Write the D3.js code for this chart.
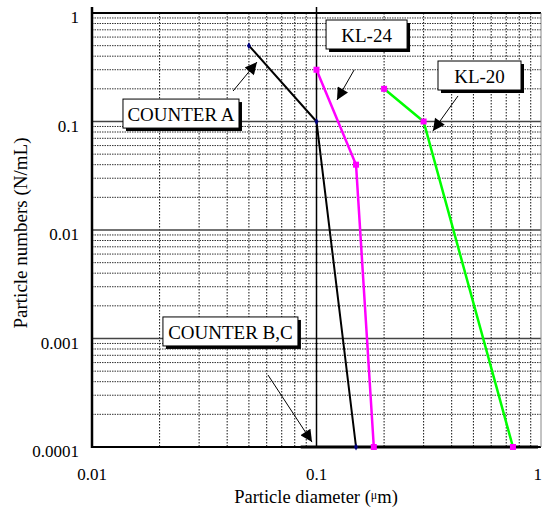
<!DOCTYPE html>
<html>
<head>
<meta charset="utf-8">
<script src="https://cdn.jsdelivr.net/npm/d3@7"></script>
<style>
  body { margin: 0; background: #fff; }
</style>
</head>
<body>
<svg id="chart"></svg>
<script>
// series values (x = particle diameter in um, y = particle numbers N/mL)
var counterA_x = [0.05, 0.1, 0.15];
var counterA_y = [0.5, 0.1, 0.0001];
var kl24_x = [0.1, 0.15, 0.18];
var kl24_y = [0.3, 0.04, 0.0001];
var kl20_x = [0.2, 0.3, 0.75];
var kl20_y = [0.2, 0.1, 0.0001];
var counterBC_x = [0.085, 0.97];
var counterBC_y = [0.0001, 0.0001];

var xTicks = [0.01, 0.1, 1];
var xTickLabels = ["0.01", "0.1", "1"];
var yTicks = [0.0001, 0.001, 0.01, 0.1, 1];
var yTickLabels = ["0.0001", "0.001", "0.01", "0.1", "1"];

// callout labels and arrows, in data units
var labelNames = ["COUNTER A", "KL-24", "KL-20", "COUNTER B,C"];
var labelAt = [[0.01374, 0.161], [0.1103, 0.862], [0.3477, 0.361], [0.0207, 0.00158]];
var arrowFrom = [[0.0425, 0.191], [0.147, 0.298], [0.427, 0.172], [0.0608, 0.000461]];
var arrowTo = [[0.0543, 0.353], [0.1234, 0.158], [0.330, 0.0818], [0.0955, 0.000111]];

var margin = { top: 13, right: 1, bottom: 63, left: 92 };
var width = 542 - margin.left - margin.right,
    height = 510 - margin.top - margin.bottom;

var svg = d3.select("#chart")
    .attr("width", 542)
    .attr("height", 510)
    .attr("font-family", "'Liberation Serif', 'Times New Roman', Times, serif");

var g = svg.append("g")
    .attr("transform", "translate(" + margin.left + "," + margin.top + ")");

var x = d3.scaleLog().domain([0.01, 1]).range([0, width]);
var y = d3.scaleLog().domain([0.0001, 1]).range([height, 0]);

// minor grid
var xMinor = x.ticks().filter(d => xTicks.indexOf(d) < 0);
var yMinor = y.ticks().filter(d => yTicks.indexOf(d) < 0);

g.selectAll(".xminor").data(xMinor).enter().append("line")
    .attr("x1", d => x(d)).attr("x2", d => x(d))
    .attr("y1", 0).attr("y2", height)
    .attr("stroke", "#111").attr("stroke-width", 1)
    .attr("stroke-dasharray", "1.5,1.5");

g.selectAll(".yminor").data(yMinor).enter().append("line")
    .attr("x1", 0).attr("x2", width)
    .attr("y1", d => y(d)).attr("y2", d => y(d))
    .attr("stroke", "#333").attr("stroke-width", 1)
    .attr("stroke-dasharray", "1.5,1");

// major grid
g.selectAll(".ymajor").data(yTicks.slice(1, 4)).enter().append("line")
    .attr("x1", 0).attr("x2", width)
    .attr("y1", d => y(d)).attr("y2", d => y(d))
    .attr("stroke", "#444").attr("stroke-width", 1.5);

g.append("line")
    .attr("x1", x(0.1)).attr("x2", x(0.1))
    .attr("y1", -6).attr("y2", height)
    .attr("stroke", "#000").attr("stroke-width", 1.5);

// frame
g.append("line").attr("x1", 0).attr("x2", 0).attr("y1", -6).attr("y2", height + 1)
    .attr("stroke", "#000").attr("stroke-width", 2.5);
g.append("line").attr("x1", 0).attr("x2", width).attr("y1", 0).attr("y2", 0)
    .attr("stroke", "#000").attr("stroke-width", 2);
g.append("line").attr("x1", 0).attr("x2", width).attr("y1", height).attr("y2", height)
    .attr("stroke", "#000").attr("stroke-width", 2);
g.append("line").attr("x1", width).attr("x2", width).attr("y1", 0).attr("y2", height)
    .attr("stroke", "#888").attr("stroke-width", 1);

// tick labels
g.selectAll(".ylab").data(yTicks).enter().append("text")
    .attr("x", -13)
    .attr("y", d => y(d) + 10)
    .attr("text-anchor", "end")
    .attr("font-size", "17px")
    .text((d, i) => yTickLabels[i]);

g.selectAll(".xlab").data(xTicks).enter().append("text")
    .attr("x", d => x(d))
    .attr("y", height + 33)
    .attr("text-anchor", (d, i) => i === xTicks.length - 1 ? "end" : "middle")
    .attr("dx", (d, i) => i === xTicks.length - 1 ? 1 : 0)
    .attr("font-size", "17px")
    .text((d, i) => xTickLabels[i]);

// axis titles
var xt = svg.append("text")
    .attr("x", 316)
    .attr("y", 503)
    .attr("text-anchor", "middle")
    .attr("font-size", "18.5px");
xt.append("tspan").text("Particle diameter (");
xt.append("tspan").attr("font-size", "12px").attr("dy", -4).text("\u03bc");
xt.append("tspan").attr("dy", 4).text("m)");

svg.append("text")
    .attr("transform", "translate(27,233) rotate(-90)")
    .attr("text-anchor", "middle")
    .attr("font-size", "19px")
    .text("Particle numbers (N/mL)");

// series
var line = d3.line().x(d => x(d[0])).y(d => y(d[1]));

g.append("path").datum(counterBC_x.map((d, i) => [d, counterBC_y[i]]))
    .attr("d", line).attr("fill", "none")
    .attr("stroke", "#000").attr("stroke-width", 3);

var seriesA = counterA_x.map((d, i) => [d, counterA_y[i]]);
var series24 = kl24_x.map((d, i) => [d, kl24_y[i]]);
var series20 = kl20_x.map((d, i) => [d, kl20_y[i]]);

g.append("path").datum(series24).attr("d", line).attr("fill", "none")
    .attr("stroke", "#ff00ff").attr("stroke-width", 2.5);
g.append("path").datum(series20).attr("d", line).attr("fill", "none")
    .attr("stroke", "#00ff00").attr("stroke-width", 2.5);
g.append("path").datum(seriesA).attr("d", line).attr("fill", "none")
    .attr("stroke", "#000").attr("stroke-width", 2);

g.selectAll(".m24").data(series24.concat(series20)).enter().append("rect")
    .attr("x", d => x(d[0]) - 3).attr("y", d => y(d[1]) - 3)
    .attr("width", 6).attr("height", 6)
    .attr("fill", "#ff00ff");

g.selectAll(".mA").data(seriesA).enter().append("path")
    .attr("d", d3.symbol().type(d3.symbolDiamond).size(14))
    .attr("transform", d => "translate(" + x(d[0]) + "," + y(d[1]) + ")")
    .attr("fill", "#000080");

// arrows
svg.append("defs").append("marker")
    .attr("id", "head")
    .attr("viewBox", "0 0 10 10")
    .attr("refX", 10).attr("refY", 5)
    .attr("markerUnits", "userSpaceOnUse")
    .attr("markerWidth", 14).attr("markerHeight", 12)
    .attr("orient", "auto")
    .append("path").attr("d", "M0,0L10,5L0,10Z").attr("fill", "#000");

g.selectAll(".arrow").data(arrowFrom).enter().append("line")
    .attr("x1", d => x(d[0])).attr("y1", d => y(d[1]))
    .attr("x2", (d, i) => x(arrowTo[i][0])).attr("y2", (d, i) => y(arrowTo[i][1]))
    .attr("stroke", "#000").attr("stroke-width", 1)
    .attr("marker-end", "url(#head)");

// callout boxes
var boxW = [116, 81, 83, 135];
var boxes = g.selectAll(".callout").data(labelNames).enter().append("g")
    .attr("transform", (d, i) => "translate(" + x(labelAt[i][0]) + "," + y(labelAt[i][1]) + ")");

boxes.append("rect")
    .attr("x", 3).attr("y", 3)
    .attr("width", (d, i) => boxW[i]).attr("height", 29)
    .attr("fill", "#000");
boxes.append("rect")
    .attr("width", (d, i) => boxW[i]).attr("height", 29)
    .attr("fill", "#fff").attr("stroke", "#000").attr("stroke-width", 1);
boxes.append("text")
    .attr("x", (d, i) => boxW[i] / 2).attr("y", 22)
    .attr("text-anchor", "middle")
    .attr("font-size", "19px")
    .text(d => d);
</script>
</body>
</html>
